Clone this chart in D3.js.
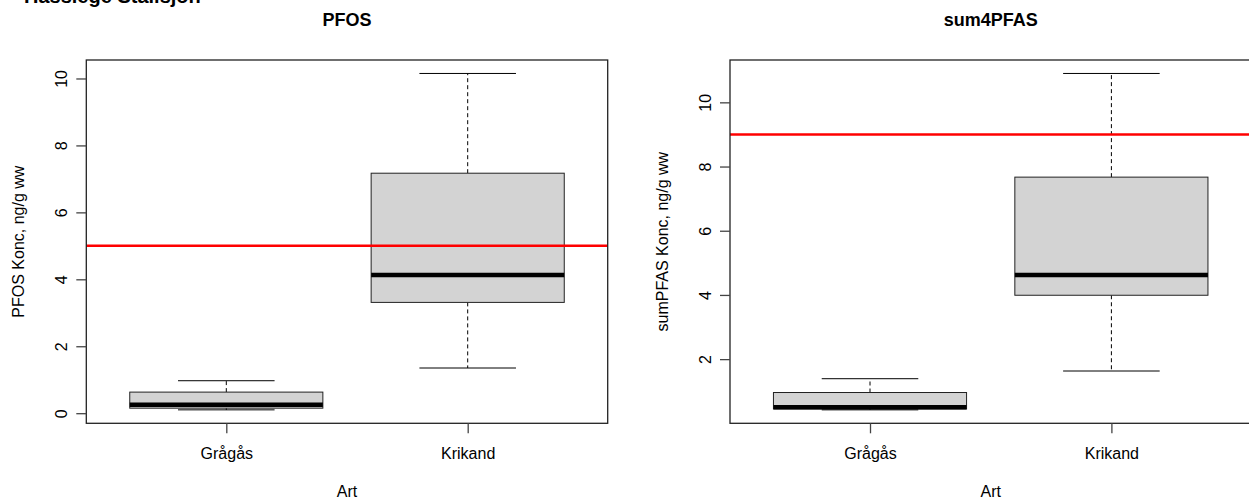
<!DOCTYPE html>
<html>
<head>
<meta charset="utf-8">
<script src="https://cdn.jsdelivr.net/npm/d3@7"></script>
<style>
  html, body { margin: 0; padding: 0; background: #ffffff; }
  svg { display: block; font-family: "Liberation Sans", Arial, sans-serif; }
</style>
</head>
<body>
<svg id="chart" width="1249" height="500"></svg>
<script>
// ---- data ----
const categories = ["Grågås", "Krikand"];

const pfosMin    = [0.10, 1.35];
const pfosQ1     = [0.15, 3.31];
const pfosMedian = [0.25, 4.13];
const pfosQ3     = [0.63, 7.17];
const pfosMax    = [0.97, 10.15];
const pfosLimit  = 5;
const pfosTicks  = [0, 2, 4, 6, 8, 10];

const sumMin     = [0.42, 1.63];
const sumQ1      = [0.45, 3.99];
const sumMedian  = [0.50, 4.62];
const sumQ3      = [0.96, 7.67];
const sumMax     = [1.39, 10.90];
const sumLimit   = 9;
const sumTicks   = [2, 4, 6, 8, 10];

const figureTitle = "Hässlege Stallsjön";
const xLabel = "Art";

// ---- drawing ----
const svg = d3.select("#chart");

svg.append("text")
  .attr("x", 24).attr("y", 3)
  .attr("font-size", 20).attr("font-weight", "bold")
  .attr("fill", "#000")
  .text(figureTitle);

function panel(opts) {
  const left = opts.left, right = opts.left + 521.4;
  const top = 60, bottom = 423.3;
  const g = svg.append("g");

  const lo = d3.min(opts.min), hi = d3.max(opts.max);
  const r = hi - lo;
  const y = d3.scaleLinear().domain([lo - 0.04 * r, hi + 0.04 * r]).range([bottom, top]);
  const x = d3.scaleLinear().domain([0.42, 2.58]).range([left, right]);

  const clipId = "clip" + opts.id;
  svg.append("clipPath").attr("id", clipId)
    .append("rect").attr("x", left).attr("y", top)
    .attr("width", right - left).attr("height", bottom - top);

  const idx = categories.map((c, i) => i);

  // whiskers (dashed)
  g.selectAll(".wup").data(idx).enter().append("line")
    .attr("x1", i => x(i + 1)).attr("x2", i => x(i + 1))
    .attr("y1", i => y(opts.q3[i])).attr("y2", i => y(opts.max[i]))
    .attr("stroke", "#000").attr("stroke-width", 1).attr("stroke-dasharray", "4,3");
  g.selectAll(".wlo").data(idx).enter().append("line")
    .attr("x1", i => x(i + 1)).attr("x2", i => x(i + 1))
    .attr("y1", i => y(opts.q1[i])).attr("y2", i => y(opts.min[i]))
    .attr("stroke", "#000").attr("stroke-width", 1).attr("stroke-dasharray", "4,3");
  // staples
  g.selectAll(".cup").data(idx).enter().append("line")
    .attr("x1", i => x(i + 1 - 0.2)).attr("x2", i => x(i + 1 + 0.2))
    .attr("y1", i => y(opts.max[i])).attr("y2", i => y(opts.max[i]))
    .attr("stroke", "#000").attr("stroke-width", 1);
  g.selectAll(".clo").data(idx).enter().append("line")
    .attr("x1", i => x(i + 1 - 0.2)).attr("x2", i => x(i + 1 + 0.2))
    .attr("y1", i => y(opts.min[i])).attr("y2", i => y(opts.min[i]))
    .attr("stroke", "#000").attr("stroke-width", 1);
  // boxes
  g.selectAll(".box").data(idx).enter().append("rect")
    .attr("x", i => x(i + 1 - 0.4))
    .attr("width", i => x(i + 1 + 0.4) - x(i + 1 - 0.4))
    .attr("y", i => y(opts.q3[i]))
    .attr("height", i => y(opts.q1[i]) - y(opts.q3[i]))
    .attr("fill", "#d3d3d3").attr("stroke", "#222").attr("stroke-width", 1);
  // medians
  g.selectAll(".med").data(idx).enter().append("line")
    .attr("x1", i => x(i + 1 - 0.4)).attr("x2", i => x(i + 1 + 0.4))
    .attr("y1", i => y(opts.median[i])).attr("y2", i => y(opts.median[i]))
    .attr("stroke", "#000").attr("stroke-width", 4.5);

  // reference line
  g.append("line")
    .attr("clip-path", "url(#" + clipId + ")")
    .attr("x1", left).attr("x2", right)
    .attr("y1", y(opts.limit)).attr("y2", y(opts.limit))
    .attr("stroke", "#ff0000").attr("stroke-width", 2.5);

  // frame
  g.append("rect")
    .attr("x", left).attr("y", top)
    .attr("width", right - left).attr("height", bottom - top)
    .attr("fill", "none").attr("stroke", "#222").attr("stroke-width", 1.3);

  // y axis
  const ya = g.append("g").attr("transform", `translate(${left},0)`)
    .call(d3.axisLeft(y).tickValues(opts.ticks).tickSize(10).tickSizeOuter(0).tickFormat(d3.format("d")));
  ya.select(".domain").remove();
  ya.selectAll(".tick line").attr("stroke", "#444").attr("stroke-width", 1.3);
  ya.selectAll(".tick text")
    .attr("x", 0).attr("dy", null).attr("text-anchor", "middle")
    .attr("transform", "translate(-19.5,0) rotate(-90)")
    .attr("font-size", 16).attr("font-family", "Liberation Sans, Arial, sans-serif").attr("fill", "#000");

  // x axis
  const xa = g.append("g").attr("transform", `translate(0,${bottom})`)
    .call(d3.axisBottom(x).tickValues([1, 2]).tickSize(10).tickSizeOuter(0)
      .tickFormat(d => categories[d - 1]));
  xa.select(".domain").remove();
  xa.selectAll(".tick line").attr("stroke", "#444").attr("stroke-width", 1.3);
  xa.selectAll(".tick text")
    .attr("y", 35.5).attr("dy", null)
    .attr("font-size", 16).attr("font-family", "Liberation Sans, Arial, sans-serif").attr("fill", "#000");

  // titles
  const cx = (left + right) / 2;
  g.append("text").attr("x", cx).attr("y", 26)
    .attr("text-anchor", "middle").attr("font-size", 18).attr("font-weight", "bold")
    .text(opts.title);
  g.append("text").attr("x", cx).attr("y", 497)
    .attr("text-anchor", "middle").attr("font-size", 16)
    .text(xLabel);
  g.append("text")
    .attr("transform", `translate(${left - 62},${(top + bottom) / 2}) rotate(-90)`)
    .attr("text-anchor", "middle").attr("font-size", 16)
    .text(opts.ylab);
}

panel({ id: 1, left: 86.3, title: "PFOS", ylab: "PFOS Konc, ng/g ww",
  min: pfosMin, q1: pfosQ1, median: pfosMedian, q3: pfosQ3, max: pfosMax,
  limit: pfosLimit, ticks: pfosTicks });

panel({ id: 2, left: 730, title: "sum4PFAS", ylab: "sumPFAS Konc, ng/g ww",
  min: sumMin, q1: sumQ1, median: sumMedian, q3: sumQ3, max: sumMax,
  limit: sumLimit, ticks: sumTicks });
</script>
</body>
</html>
